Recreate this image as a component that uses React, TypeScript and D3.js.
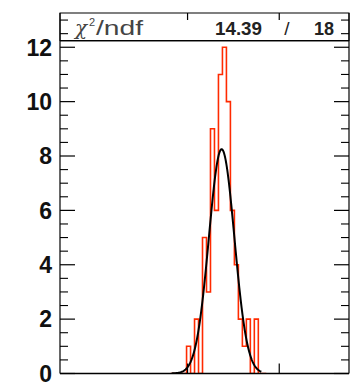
import React from "react";
import * as d3 from "d3";

// ---- data ----
const binStart = 28; // low edge of first bin (x units)
const counts = [0, 0, 0, 0, 1, 0, 2, 0, 5, 3, 9, 6, 11, 12, 10, 6, 4, 2, 1, 2, 0, 2, 0, 0];
const xDomain = [0.25, 72.75];
const yDomain = [0, 13.26];
const yMajorTicks = [0, 2, 4, 6, 8, 10, 12];
const xMajorTicks = [32.25, 55.25];
const fitConstant = 8.25;
const fitMean = 40.8;
const fitSigma = 3.2;
const fitRange = [28.25, 50.75];
const chi2Label = "14.39";
const ndfLabel = "18";

const W = 352;
const H = 382;
const L = 60, R = 349, T = 13, B = 373.5;

export default function App() {
  const x = d3.scaleLinear().domain(xDomain).range([L, R]);
  const y = d3.scaleLinear().domain(yDomain).range([B, T]);

  const pts: [number, number][] = [];
  counts.forEach((c, i) => {
    const x0 = binStart + i;
    pts.push([x0, c]);
    pts.push([x0 + 1, c]);
  });
  const histLine = d3
    .line<[number, number]>()
    .x((d) => x(d[0]))
    .y((d) => y(d[1]));
  const histPts: [number, number][] = [[binStart, 0], ...pts, [binStart + counts.length, 0]];

  const fitPts: [number, number][] = d3.range(0, 201).map((i) => {
    const v = fitRange[0] + ((fitRange[1] - fitRange[0]) * i) / 200;
    return [v, fitConstant * Math.exp(-0.5 * ((v - fitMean) / fitSigma) ** 2)];
  });
  const fitLine = d3
    .line<[number, number]>()
    .x((d) => x(d[0]))
    .y((d) => y(d[1]));

  const minorTicks = d3.range(0, 13.01, 0.5).filter((v) => v % 2 !== 0);

  const font = "'Liberation Sans', Arial, Helvetica, sans-serif";

  return (
    <svg width={W} height={H} style={{ position: "absolute", left: 0, top: 0, background: "#fff" }}>
      <defs>
        <clipPath id="frame">
          <rect x={L} y={T} width={R - L} height={B - T} />
        </clipPath>
      </defs>
      <rect x={0} y={0} width={W} height={H} fill="#fff" />
      <path
        d={histLine(histPts) || ""}
        fill="none"
        stroke="#ff2a00"
        strokeWidth={1.6}
        clipPath="url(#frame)"
      />
      <path d={fitLine(fitPts) || ""} fill="none" stroke="#000" strokeWidth={2} clipPath="url(#frame)" />

      {/* stats box */}
      <rect x={L} y={T} width={R - L} height={27.5} fill="#fff" stroke="#000" strokeWidth={1} />
      <line x1={L} x2={R} y1={T + 28.5} y2={T + 28.5} stroke="#888" strokeWidth={1} />
      <text x={75} y={35} fontFamily="'DejaVu Serif', serif" fontStyle="italic" fontSize={20} fill="#444">
        χ
      </text>
      <text x={89} y={26} fontFamily={font} fontSize={11} fill="#444">
        2
      </text>
      <text x={96} y={35} fontFamily={font} fontSize={20} fill="#444" textLength={47} lengthAdjust="spacingAndGlyphs">
        /ndf
      </text>
      <text x={215} y={35} fontFamily={font} fontSize={18} fontWeight="bold" fill="#222" textLength={47} lengthAdjust="spacingAndGlyphs">
        {chi2Label}
      </text>
      <text x={287} y={35} fontFamily={font} fontSize={19} fill="#222" textAnchor="middle">
        /
      </text>
      <text x={334} y={35} fontFamily={font} fontSize={18} fontWeight="bold" fill="#222" textAnchor="end">
        {ndfLabel}
      </text>

      {/* frame */}
      <line x1={L} x2={L} y1={T} y2={B} stroke="#000" strokeWidth={1.2} />
      <line x1={R} x2={R} y1={T} y2={B} stroke="#000" strokeWidth={1.2} />
      <line x1={L} x2={R} y1={B} y2={B} stroke="#000" strokeWidth={1.4} />

      {yMajorTicks.map((v) => (
        <g key={"ym" + v}>
          <line x1={L} x2={L + 15} y1={y(v)} y2={y(v)} stroke="#000" strokeWidth={1.2} />
          <line x1={R} x2={R - 15} y1={y(v)} y2={y(v)} stroke="#000" strokeWidth={1.2} />
          <text
            x={52}
            y={y(v)}
            dy="0.36em"
            textAnchor="end"
            fontFamily={font}
            fontWeight="bold"
            fontSize={23}
            fill="#111"
          >
            {v}
          </text>
        </g>
      ))}
      {minorTicks.map((v) => (
        <g key={"yn" + v}>
          <line x1={L} x2={L + 8} y1={y(v)} y2={y(v)} stroke="#000" strokeWidth={1.1} />
          <line x1={R} x2={R - 8} y1={y(v)} y2={y(v)} stroke="#000" strokeWidth={1.1} />
        </g>
      ))}
      {xMajorTicks.map((v) => (
        <g key={"xm" + v}>
          <line x1={x(v)} x2={x(v)} y1={B} y2={B - 10} stroke="#000" strokeWidth={1.2} />
          <line x1={x(v)} x2={x(v)} y1={T} y2={T + 7} stroke="#000" strokeWidth={1.2} />
        </g>
      ))}
    </svg>
  );
}
